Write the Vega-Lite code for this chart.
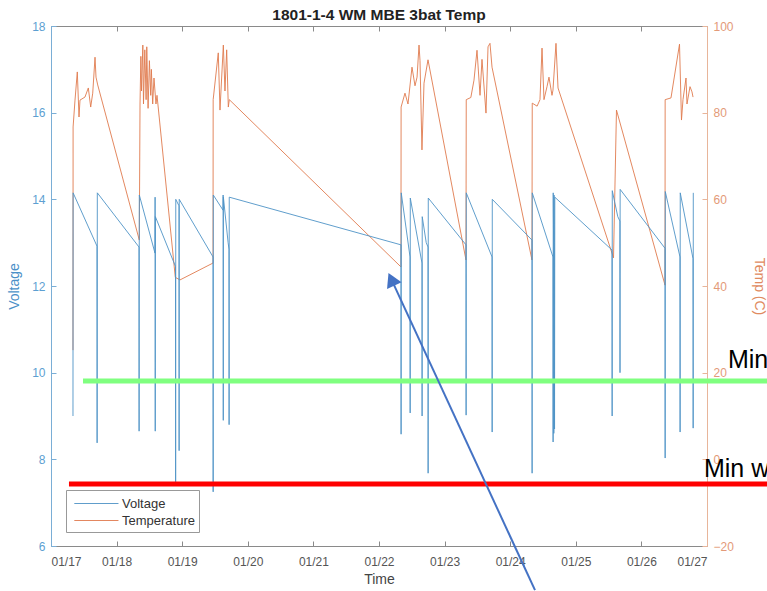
{
  "$schema": "https://vega.github.io/schema/vega-lite/v6.json",
  "width": 656,
  "height": 520,
  "autosize": {"type": "none"},
  "padding": {"left": 51, "top": 26, "right": 60, "bottom": 45},
  "background": "white",
  "title": {"text": "1801-1-4 WM MBE 3bat Temp", "fontSize": 15.5, "fontWeight": "bold", "font": "Liberation Sans", "color": "#222222", "offset": -3, "anchor": "middle"},
  "config": {
    "view": {"stroke": null},
    "axis": {"labelFont": "Liberation Sans", "labelFontSize": 12, "titleFont": "Liberation Sans", "titleFontSize": 14, "titleFontWeight": "normal", "grid": false, "tickSize": -5, "domainWidth": 1, "tickWidth": 1}
  },
  "datasets": {
    "voltage": [
      {"day": 0.335, "voltage": 9.0}, {"day": 0.337, "voltage": 14.15}, {"day": 0.701, "voltage": 12.92}, {"day": 0.703, "voltage": 8.38}, {"day": 0.706, "voltage": 14.15},
      {"day": 1.341, "voltage": 12.9}, {"day": 1.343, "voltage": 8.65}, {"day": 1.346, "voltage": 14.1}, {"day": 1.585, "voltage": 12.76}, {"day": 1.587, "voltage": 14.05},
      {"day": 1.589, "voltage": 8.65}, {"day": 1.591, "voltage": 13.6}, {"day": 1.898, "voltage": 12.45}, {"day": 1.9, "voltage": 7.48}, {"day": 1.902, "voltage": 14.0},
      {"day": 1.951, "voltage": 13.85}, {"day": 1.953, "voltage": 8.2}, {"day": 1.955, "voltage": 14.0}, {"day": 2.47, "voltage": 12.67}, {"day": 2.472, "voltage": 7.25},
      {"day": 2.474, "voltage": 14.1}, {"day": 2.622, "voltage": 13.75}, {"day": 2.624, "voltage": 14.1}, {"day": 2.626, "voltage": 8.9}, {"day": 2.628, "voltage": 14.05},
      {"day": 2.7, "voltage": 13.0}, {"day": 2.713, "voltage": 12.85}, {"day": 2.715, "voltage": 8.8}, {"day": 2.717, "voltage": 14.05},
      {"day": 5.335, "voltage": 12.95}, {"day": 5.337, "voltage": 8.58}, {"day": 5.339, "voltage": 14.15}, {"day": 5.473, "voltage": 12.67}, {"day": 5.475, "voltage": 9.07},
      {"day": 5.477, "voltage": 14.03}, {"day": 5.655, "voltage": 12.53}, {"day": 5.657, "voltage": 9.0}, {"day": 5.659, "voltage": 13.6}, {"day": 5.72, "voltage": 13.0},
      {"day": 5.747, "voltage": 12.9}, {"day": 5.749, "voltage": 7.68}, {"day": 5.751, "voltage": 14.03}, {"day": 6.326, "voltage": 12.95}, {"day": 6.328, "voltage": 9.02},
      {"day": 6.33, "voltage": 14.15}, {"day": 6.723, "voltage": 12.67}, {"day": 6.725, "voltage": 8.63}, {"day": 6.727, "voltage": 14.0}, {"day": 7.332, "voltage": 13.06},
      {"day": 7.334, "voltage": 7.68}, {"day": 7.336, "voltage": 14.15}, {"day": 7.652, "voltage": 12.67}, {"day": 7.654, "voltage": 8.4}, {"day": 7.656, "voltage": 14.15},
      {"day": 7.662, "voltage": 12.9}, {"day": 7.665, "voltage": 8.6}, {"day": 7.668, "voltage": 14.1}, {"day": 7.673, "voltage": 13.0}, {"day": 7.676, "voltage": 8.7},
      {"day": 7.68, "voltage": 14.05}, {"day": 8.552, "voltage": 12.83}, {"day": 8.554, "voltage": 9.0}, {"day": 8.556, "voltage": 14.2}, {"day": 8.64, "voltage": 13.6},
      {"day": 8.672, "voltage": 13.5}, {"day": 8.674, "voltage": 10.0}, {"day": 8.676, "voltage": 14.23}, {"day": 9.36, "voltage": 12.87}, {"day": 9.362, "voltage": 8.03},
      {"day": 9.364, "voltage": 14.18}, {"day": 9.588, "voltage": 12.67}, {"day": 9.59, "voltage": 8.63}, {"day": 9.592, "voltage": 14.15}, {"day": 9.787, "voltage": 12.63},
      {"day": 9.789, "voltage": 8.72}, {"day": 9.791, "voltage": 14.15}
    ],
    "temperature": [
      {"day": 0.335, "temp": 25.2}, {"day": 0.337, "temp": 76.7}, {"day": 0.366, "temp": 82.9}, {"day": 0.401, "temp": 89.4}, {"day": 0.427, "temp": 79},
      {"day": 0.442, "temp": 82.9}, {"day": 0.518, "temp": 83.6}, {"day": 0.569, "temp": 85.7}, {"day": 0.605, "temp": 81.3}, {"day": 0.636, "temp": 84.5},
      {"day": 0.671, "temp": 92.8}, {"day": 0.686, "temp": 88.2}, {"day": 0.712, "temp": 86.4}, {"day": 1.346, "temp": 50.6}, {"day": 1.357, "temp": 82},
      {"day": 1.37, "temp": 93}, {"day": 1.38, "temp": 85}, {"day": 1.4, "temp": 95.6}, {"day": 1.41, "temp": 82}, {"day": 1.43, "temp": 94.5},
      {"day": 1.45, "temp": 83}, {"day": 1.46, "temp": 95.2}, {"day": 1.48, "temp": 81}, {"day": 1.5, "temp": 92}, {"day": 1.52, "temp": 84},
      {"day": 1.53, "temp": 90}, {"day": 1.55, "temp": 82}, {"day": 1.57, "temp": 88}, {"day": 1.6, "temp": 82}, {"day": 1.616, "temp": 84},
      {"day": 1.895, "temp": 42}, {"day": 1.966, "temp": 41.4}, {"day": 2.47, "temp": 45.3}, {"day": 2.472, "temp": 83}, {"day": 2.55, "temp": 93.8},
      {"day": 2.576, "temp": 80.6}, {"day": 2.627, "temp": 95.6}, {"day": 2.652, "temp": 85}, {"day": 2.678, "temp": 94.5}, {"day": 2.703, "temp": 81.3},
      {"day": 2.718, "temp": 83}, {"day": 5.335, "temp": 44.4}, {"day": 5.337, "temp": 81.3}, {"day": 5.396, "temp": 84.5}, {"day": 5.442, "temp": 82},
      {"day": 5.503, "temp": 90.5}, {"day": 5.549, "temp": 86.2}, {"day": 5.58, "temp": 88.2}, {"day": 5.61, "temp": 95.6}, {"day": 5.625, "temp": 92},
      {"day": 5.655, "temp": 71.4}, {"day": 5.686, "temp": 86.8}, {"day": 5.747, "temp": 92.2}, {"day": 6.326, "temp": 46}, {"day": 6.33, "temp": 83},
      {"day": 6.4, "temp": 83.5}, {"day": 6.448, "temp": 87.5}, {"day": 6.494, "temp": 94.4}, {"day": 6.54, "temp": 84}, {"day": 6.57, "temp": 92.3},
      {"day": 6.631, "temp": 79.9}, {"day": 6.662, "temp": 95.2}, {"day": 6.692, "temp": 96}, {"day": 6.723, "temp": 90.5}, {"day": 7.332, "temp": 46},
      {"day": 7.336, "temp": 82.2}, {"day": 7.41, "temp": 81.5}, {"day": 7.454, "temp": 83}, {"day": 7.485, "temp": 94.9}, {"day": 7.515, "temp": 83},
      {"day": 7.561, "temp": 86}, {"day": 7.591, "temp": 88.2}, {"day": 7.637, "temp": 84}, {"day": 7.652, "temp": 85.2}, {"day": 7.698, "temp": 96},
      {"day": 7.729, "temp": 85.7}, {"day": 8.575, "temp": 46.5}, {"day": 8.62, "temp": 80.6}, {"day": 9.36, "temp": 40.2}, {"day": 9.362, "temp": 83},
      {"day": 9.451, "temp": 83.4}, {"day": 9.581, "temp": 95.8}, {"day": 9.611, "temp": 78.3}, {"day": 9.634, "temp": 83}, {"day": 9.68, "temp": 88},
      {"day": 9.695, "temp": 82}, {"day": 9.741, "temp": 86}, {"day": 9.771, "temp": 84.8}, {"day": 9.787, "temp": 83.6}
    ],
    "thresholds": [
      {"day": 0.488, "end": 10.915, "voltage": 9.81, "name": "green"},
      {"day": 0.274, "end": 10.915, "voltage": 7.43, "name": "red"}
    ],
    "arrow": [
      {"day": 7.378, "voltage": 4.98, "toDay": 5.189, "toV": 12.154}
    ],
    "arrowhead": [
      {"day": 5.189, "voltage": 12.154}
    ],
    "labels": [
      {"day": 10.32, "voltage": 10.107, "text": "Min voltage"},
      {"day": 9.954, "voltage": 7.592, "text": "Min working voltage"}
    ]
  },
  "layer": [
    {
      "data": {"name": "temperature"},
      "mark": {"type": "line", "strokeWidth": 1, "opacity": 0.9},
      "encoding": {
        "x": {"field": "day", "type": "quantitative", "scale": {"domain": [0, 10], "nice": false, "zero": false},
              "axis": {"orient": "top", "labels": false, "title": null, "values": [0,1,2,3,4,5,6,7,8,9,10], "domainColor": "#8a8a8a", "tickColor": "#8a8a8a"}},
        "y": {"field": "temp", "type": "quantitative", "scale": {"domain": [-20, 100], "nice": false, "zero": false},
              "axis": {"orient": "right", "title": "Temp (C)", "values": [-20,0,20,40,60,80,100], "labelColor": "#e39a78", "titleColor": "#e08a60", "domainColor": "#e8b59a", "tickColor": "#e8b59a", "labelPadding": 11, "titlePadding": 18}},
        "color": {"datum": "Temperature", "type": "nominal",
                  "scale": {"domain": ["Voltage", "Temperature"], "range": ["#4f93c6", "#e07b4f"]},
                  "legend": {"orient": "none", "legendX": 15, "legendY": 464, "title": null, "direction": "vertical", "symbolType": "M-0.6,0H4.5", "symbolSize": 300, "symbolStrokeWidth": 1, "labelOffset": 33, "labelFont": "Liberation Sans", "labelFontSize": 13, "labelColor": "#333333", "strokeColor": "#999999", "fillColor": "#ffffff", "padding": 4, "rowPadding": 0}}
      }
    },
    {
      "layer": [
        {
          "data": {"name": "voltage"},
          "mark": {"type": "line", "strokeWidth": 1, "opacity": 0.9},
          "encoding": {
            "x": {"field": "day", "type": "quantitative", "scale": {"domain": [0, 10], "nice": false, "zero": false},
                  "axis": {"orient": "bottom", "title": "Time", "values": [0,1,2,3,4,5,6,7,8,9,10], "labelExpr": "'01/' + (17 + datum.value)", "labelColor": "#555555", "titleColor": "#444444", "domainColor": "#8a8a8a", "tickColor": "#8a8a8a", "labelPadding": 15, "titlePadding": 5}},
            "y": {"field": "voltage", "type": "quantitative", "scale": {"domain": [6, 18], "nice": false, "zero": false},
                  "axis": {"orient": "left", "title": "Voltage", "values": [6,8,10,12,14,16,18], "labelColor": "#5d9fd2", "titleColor": "#4a90c8", "domainColor": "#7aaed6", "tickColor": "#7aaed6", "labelPadding": 11, "titlePadding": 10}},
            "color": {"datum": "Voltage", "type": "nominal",
                      "legend": {"orient": "none", "legendX": 15, "legendY": 464, "title": null, "direction": "vertical", "symbolType": "M-0.6,0H4.5", "symbolSize": 300, "symbolStrokeWidth": 1, "labelOffset": 33, "labelFont": "Liberation Sans", "labelFontSize": 13, "labelColor": "#333333", "strokeColor": "#999999", "fillColor": "#ffffff", "padding": 4, "rowPadding": 0}}
          }
        },
        {
          "data": {"name": "thresholds"},
          "mark": {"type": "rule", "strokeWidth": 5},
          "encoding": {
            "x": {"field": "day", "type": "quantitative"},
            "x2": {"field": "end"},
            "y": {"field": "voltage", "type": "quantitative"},
            "stroke": {"field": "name", "type": "nominal", "scale": {"domain": ["green", "red"], "range": ["#80ff80", "#ff0000"]}, "legend": null}
          }
        },
        {
          "data": {"name": "arrow"},
          "mark": {"type": "rule", "strokeWidth": 2, "color": "#4472c4"},
          "encoding": {
            "x": {"field": "day", "type": "quantitative"},
            "x2": {"field": "toDay"},
            "y": {"field": "voltage", "type": "quantitative"},
            "y2": {"field": "toV"}
          }
        },
        {
          "data": {"name": "arrowhead"},
          "mark": {"type": "point", "shape": "triangle-up", "filled": true, "size": 256, "angle": 335.2, "color": "#4472c4", "opacity": 1},
          "encoding": {
            "x": {"field": "day", "type": "quantitative"},
            "y": {"field": "voltage", "type": "quantitative"}
          }
        },
        {
          "data": {"name": "labels"},
          "mark": {"type": "text", "align": "left", "baseline": "alphabetic", "font": "Liberation Sans", "fontSize": 25, "color": "#000000"},
          "encoding": {
            "x": {"field": "day", "type": "quantitative"},
            "y": {"field": "voltage", "type": "quantitative"},
            "text": {"field": "text"}
          }
        }
      ]
    }
  ],
  "resolve": {"scale": {"y": "independent"}, "axis": {"x": "independent", "y": "independent"}}
}
